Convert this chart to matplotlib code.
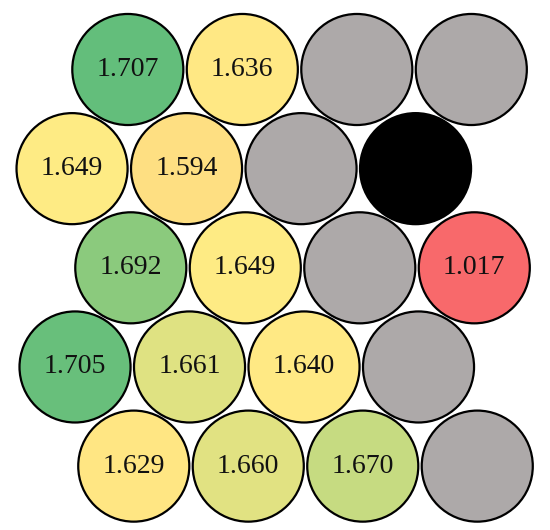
import numpy as np
import matplotlib.pyplot as plt
from matplotlib.patches import Circle
from matplotlib.colors import LinearSegmentedColormap, TwoSlopeNorm

# values per row, None = empty (grey) cell
row1 = [1.707, 1.636, None, None]
row2 = [1.649, 1.594, None, None]
row3 = [1.692, 1.649, None, 1.017]
row4 = [1.705, 1.661, 1.640, None]
row5 = [1.629, 1.660, 1.670, None]
rows = [row1, row2, row3, row4, row5]

# cells drawn solid black (row, col)
blocked = [(1, 3)]

# Excel-style 3 colour scale: min red, median yellow, max green
scale_colors = ['#F8696B', '#FFEB84', '#63BE7B']
empty_color = '#ADA9A9'

vals = np.array([v for r in rows for v in r if v is not None])
cmap = LinearSegmentedColormap.from_list('ryg', scale_colors)
norm = TwoSlopeNorm(vmin=vals.min(), vcenter=np.median(vals), vmax=vals.max())

plt.rcParams['font.family'] = ['Liberation Serif', 'DejaVu Serif']

fig = plt.figure(figsize=(5.5, 5.3), dpi=100)
ax = fig.add_axes([0, 0, 1, 1])

radius = 0.485
dy = np.sqrt(3) / 2
skew = 0.013

for i, r in enumerate(rows):
    for j, v in enumerate(r):
        x = j + (0.5 if i % 2 == 0 else 0.0) + skew * i
        y = i * dy
        if (i, j) in blocked:
            fc = 'black'
        elif v is None:
            fc = empty_color
        else:
            fc = cmap(norm(v))
        ax.add_patch(Circle((x, y), radius, facecolor=fc, edgecolor='black', linewidth=1.6))
        if v is not None and (i, j) not in blocked:
            ax.text(x, y, f"{v:.3f}", ha='center', va='center', fontsize=20, color='#111111')

ax.set_xlim(-0.616, 4.187)
ax.set_ylim(4.022, -0.607)
ax.set_aspect('equal')
ax.axis('off')

plt.savefig('out.png', dpi=100)
